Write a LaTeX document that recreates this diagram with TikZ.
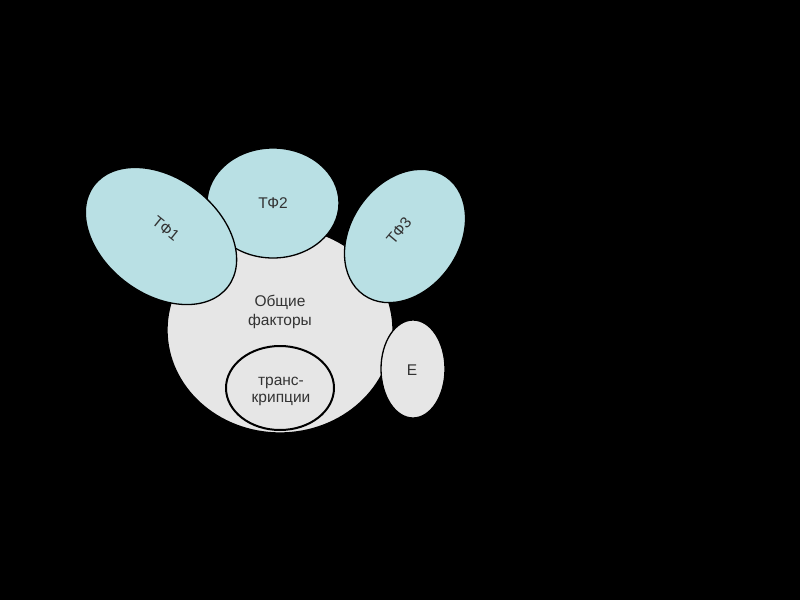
\documentclass[tikz,border=0pt]{standalone}
\usepackage{fontspec}
\setmainfont{Liberation Sans}
\usetikzlibrary{shapes.geometric}
\definecolor{tfteal}{RGB}{185,224,228}
\definecolor{lgray}{RGB}{230,230,230}
\definecolor{txt}{RGB}{51,51,51}
\begin{document}
\begin{tikzpicture}[x=1pt,y=-1pt,
  blob/.style={ellipse, draw=black, line width=1.3pt, inner sep=0pt},
  tf/.style={blob, fill=tfteal},
  gr/.style={blob, fill=lgray},
  lbl/.style={text=txt, font=\fontsize{15.5}{19}\selectfont, align=center, inner sep=1pt}]
\fill[black] (0,0) rectangle (800,600);
\useasboundingbox (0,0) rectangle (800,600);
\node[gr, minimum width=226pt, minimum height=206pt] (common) at (280,330) {};
\node[lbl] (commonlbl) at (280,312) {Общие\\факторы};
\node[gr, line width=2pt, minimum width=108pt, minimum height=84pt] (tr) at (280,388) {};
\node[lbl, font=\fontsize{15.5}{17}\selectfont] (trlbl) at (281,391) {транс-\\крипции};
\node[gr, minimum width=64pt, minimum height=98pt] (e) at (413,369) {};
\node[lbl] (elbl) at (412,370) {Е};
\node[tf, minimum width=132pt, minimum height=110pt] (tf2) at (273,203) {};
\node[lbl] (tf2lbl) at (273,203) {ТФ2};
\node[tf, minimum width=144pt, minimum height=108pt, rotate=55] (tf3) at (405,236) {};
\node[lbl, rotate=50] (tf3lbl) at (399,231) {ТФ3};
\node[tf, minimum width=168pt, minimum height=116pt, rotate=-37] (tf1) at (161,236) {};
\node[lbl, rotate=-39] (tf1lbl) at (166,229) {ТФ1};
\end{tikzpicture}
\end{document}
